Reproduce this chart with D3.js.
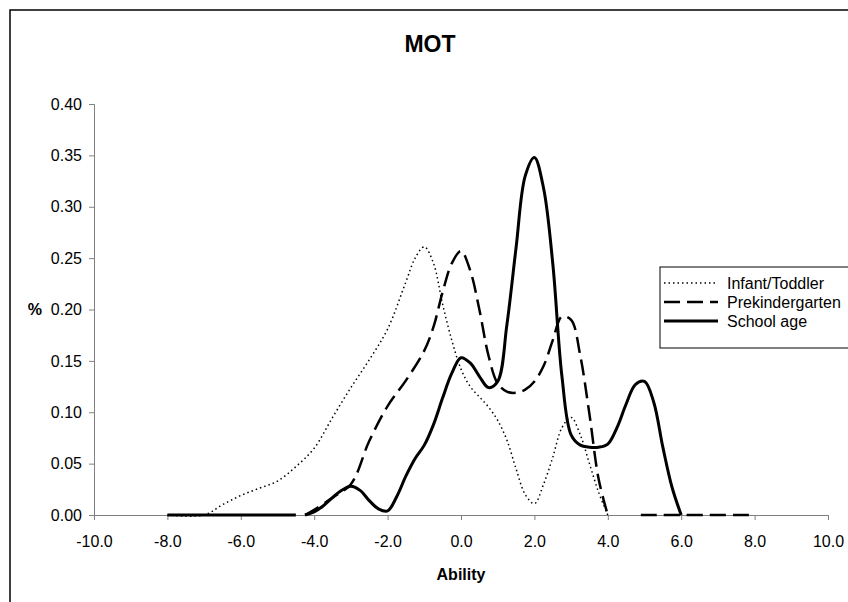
<!DOCTYPE html>
<html>
<head>
<meta charset="utf-8">
<script src="https://cdn.jsdelivr.net/npm/d3@7"></script>
<style>
  body { margin: 0; background: #fff; }
  text { font-family: "Liberation Sans", Arial, sans-serif; fill: #000; }
</style>
</head>
<body>
<svg width="848" height="602"></svg>
<script>
// axis ticks
const xTicks = [-10, -8, -6, -4, -2, 0, 2, 4, 6, 8, 10];
const yTicks = [0, 0.05, 0.10, 0.15, 0.20, 0.25, 0.30, 0.35, 0.40];

const seriesNames = ["Infant/Toddler", "Prekindergarten", "School age"];

// Infant/Toddler (dotted)
const infantX = [-8, -7.0, -6.5, -6.0, -5.5, -5.0, -4.5, -4.0, -3.5, -3.0, -2.5, -2.0, -1.5, -1.25, -1.0, -0.75, -0.5, -0.25,
  0.0, 0.25, 0.5, 0.75, 1.0, 1.25, 1.5, 1.75, 2.0, 2.25, 2.5, 2.75, 3.0, 3.25, 3.5, 3.75, 4.0];
const infantY = [0, 0.0, 0.010, 0.019, 0.026, 0.033, 0.047, 0.065, 0.095, 0.124, 0.151, 0.181, 0.227, 0.250, 0.261, 0.245, 0.205, 0.170,
  0.142, 0.125, 0.115, 0.105, 0.092, 0.073, 0.045, 0.020, 0.011, 0.030, 0.056, 0.085, 0.095, 0.078, 0.050, 0.022, 0.0];

// Prekindergarten (dashed) - null splits the line
const prekX = [-4.25, -4.0, -3.5, -3.0, -2.5, -2.0, -1.5, -1.0, -0.75, -0.5, -0.25, 0.0, 0.25, 0.5, 0.75, 1.0, 1.25, 1.5, 1.75,
  2.0, 2.25, 2.5, 2.75, 3.0, 3.25, 3.5, 3.75, 4.0, 4.5, 4.9, 6.0, 8.0];
const prekY = [0.0, 0.005, 0.017, 0.030, 0.072, 0.106, 0.131, 0.160, 0.183, 0.217, 0.245, 0.257, 0.238, 0.200, 0.155, 0.128, 0.120, 0.119, 0.122,
  0.130, 0.145, 0.170, 0.193, 0.190, 0.155, 0.098, 0.035, 0.0, null, 0.0, 0.0, 0.0];

// School age (solid)
const schoolX = [-8.0, -6.0, -4.5, -4.4, -4.25, -4.0, -3.75, -3.5, -3.25, -3.0, -2.75, -2.5, -2.25, -2.0, -1.75, -1.5, -1.25, -1.0, -0.75, -0.5, -0.25,
  0.0, 0.25, 0.5, 0.75, 1.0, 1.25, 1.5, 1.75, 2.0, 2.25, 2.5, 2.75, 3.0, 3.25, 3.5, 3.75, 4.0, 4.25, 4.5, 4.75, 5.0, 5.25, 5.5, 5.75, 6.0];
const schoolY = [0.0, 0.0, 0.0, null, 0.0, 0.003, 0.009, 0.017, 0.024, 0.028, 0.024, 0.014, 0.006, 0.004, 0.018, 0.038, 0.055, 0.068, 0.088, 0.114, 0.138,
  0.153, 0.148, 0.135, 0.124, 0.130, 0.185, 0.260, 0.330, 0.348, 0.318, 0.245, 0.135, 0.078, 0.068, 0.066, 0.066, 0.069, 0.085, 0.108, 0.127, 0.130, 0.110, 0.066, 0.027, 0.0];

const svg = d3.select("svg");

// outer frame of the chart
svg.append("rect")
  .attr("x", 10).attr("y", 10)
  .attr("width", 860).attr("height", 620)
  .attr("fill", "none").attr("stroke", "#000").attr("stroke-width", 1.5);

const x = d3.scaleLinear().domain([-10, 10]).range([94, 828]);
const y = d3.scaleLinear().domain([0, 0.4]).range([515, 104]);

// plain hyphen for negatives, like the original
const fmt = p => v => d3.format(p)(v).replace("\u2212", "-");

const xAxis = svg.append("g")
  .attr("transform", "translate(0,515)")
  .call(d3.axisBottom(x).tickValues(xTicks).tickSize(5).tickPadding(16).tickFormat(fmt(".1f")));
const yAxis = svg.append("g")
  .attr("transform", "translate(94,0)")
  .call(d3.axisLeft(y).tickValues(yTicks).tickSize(5).tickPadding(7).tickFormat(fmt(".2f")));

[xAxis, yAxis].forEach(g => {
  g.select(".domain").attr("stroke", "#808080");
  g.selectAll(".tick line").attr("stroke", "#808080");
  g.selectAll("text").attr("font-size", 16).attr("font-family", "Liberation Sans, Arial, sans-serif");
});

// title and axis titles
svg.append("text").attr("x", 430).attr("y", 52).attr("text-anchor", "middle")
  .attr("font-size", 23).attr("font-weight", "bold").text("MOT");
svg.append("text").attr("x", 461).attr("y", 580).attr("text-anchor", "middle")
  .attr("font-size", 16).attr("font-weight", "bold").text("Ability");
svg.append("text").attr("x", 42).attr("y", 309).attr("dy", "0.35em").attr("text-anchor", "end")
  .attr("font-size", 16).attr("font-weight", "bold").text("%");

const styles = [
  { width: 1.5, dash: "1.5,3" },
  { width: 2.5, dash: "16,7" },
  { width: 3, dash: null }
];

const seriesData = [
  infantX.map((v, i) => ({ x: v, y: infantY[i] })),
  prekX.map((v, i) => ({ x: v, y: prekY[i] })),
  schoolX.map((v, i) => ({ x: v, y: schoolY[i] }))
];

const line = d3.line()
  .defined(d => d.y !== null)
  .x(d => x(d.x))
  .y(d => y(d.y))
  .curve(d3.curveCatmullRom.alpha(0.5));

seriesData.forEach((data, i) => {
  svg.append("path")
    .datum(data)
    .attr("d", line)
    .attr("fill", "none")
    .attr("stroke", "#000")
    .attr("stroke-width", styles[i].width)
    .attr("stroke-dasharray", styles[i].dash);
});

// legend
const legend = svg.append("g");
legend.append("rect")
  .attr("x", 660).attr("y", 267).attr("width", 200).attr("height", 81)
  .attr("fill", "#fff").attr("stroke", "#000").attr("stroke-width", 1);

seriesNames.forEach((name, i) => {
  const ly = 283 + i * 19;
  legend.append("line")
    .attr("x1", 664).attr("x2", 718).attr("y1", ly).attr("y2", ly)
    .attr("stroke", "#000")
    .attr("stroke-width", styles[i].width)
    .attr("stroke-dasharray", styles[i].dash);
  legend.append("text")
    .attr("x", 727).attr("y", ly).attr("dy", "0.35em")
    .attr("font-size", 16).text(name);
});
</script>
</body>
</html>
